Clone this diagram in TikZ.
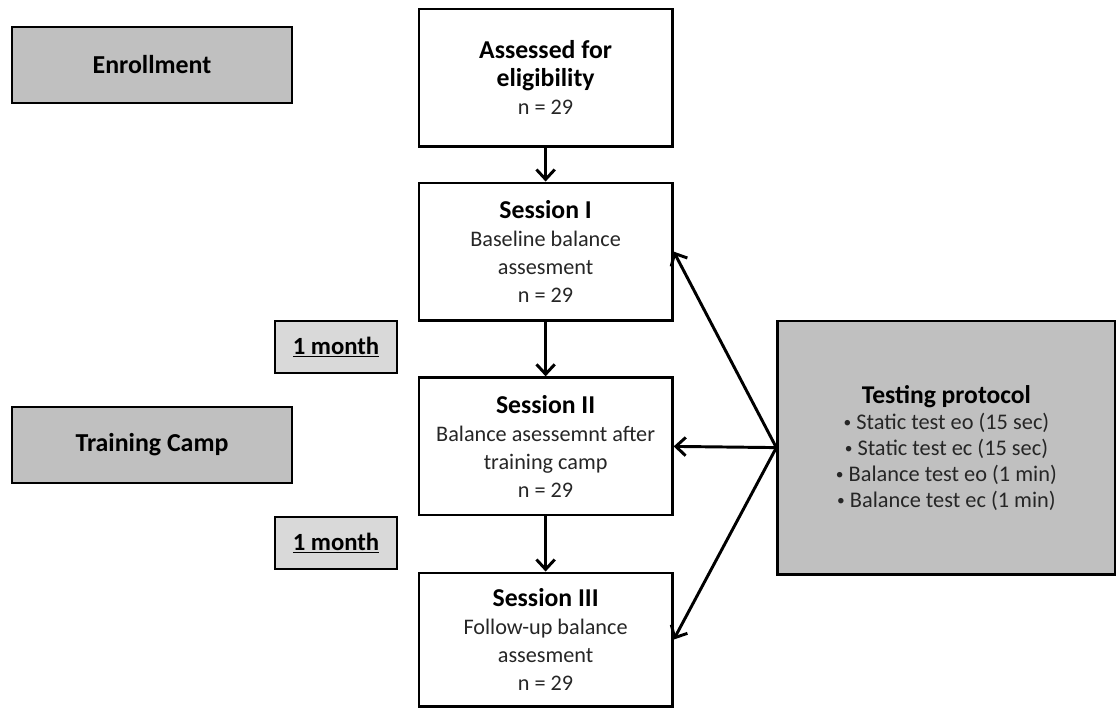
\documentclass[tikz,border=0pt]{standalone}
\usepackage{fontspec}
\setmainfont{Carlito}
\usepackage{tikz}
\usetikzlibrary{arrows.meta}
\definecolor{boxgray}{HTML}{C0C0C0}
\definecolor{monthgray}{HTML}{D9D9D9}
\newcommand{\boxtitle}[1]{{\color{black}\bfseries\fontsize{18.3}{20}\selectfont #1}}
\newcommand{\dotitem}{{\fontsize{11}{11}\selectfont\raisebox{0.12em}{\textbullet}}\ }

\begin{document}
\begin{tikzpicture}[
  stage/.style={draw=black, line width=2.1pt, fill=white, text=black!85,
    minimum width=6.33cm, minimum height=3.43cm, inner sep=0pt, align=center,
    font=\fontsize{15.8}{20}\selectfont},
  phase/.style={draw=black, line width=2.1pt, fill=boxgray,
    minimum width=7cm, minimum height=1.9cm, font=\bfseries\fontsize{18.4}{20}\selectfont},
  gap/.style={draw=black, line width=2.1pt, fill=monthgray,
    minimum width=3.05cm, minimum height=1.3cm, font=\bfseries\fontsize{17.6}{20}\selectfont},
  arr/.style={line width=2.1pt, -{Straight Barb[length=7pt,width=13pt]}}
]
\useasboundingbox (0cm,0cm) rectangle (27.925cm,-17.7cm);

\node[phase] (enroll) at (3.8cm,-1.625cm) {Enrollment};
\node[phase] (camp) at (3.8cm,-11.125cm) {Training Camp};

\node[stage] (elig) at (13.64cm,-1.94cm) {\boxtitle{Assessed for}\\ \boxtitle{eligibility}\\ n = 29};
\node[stage] (s1) at (13.64cm,-6.29cm) {\boxtitle{Session I}\\ Baseline balance\\ assesment\\ n = 29};
\node[stage] (s2) at (13.64cm,-11.16cm) {\boxtitle{Session II}\\ Balance asessemnt after\\ training camp\\ n = 29};
\node[stage, minimum height=3.33cm] (s3) at (13.64cm,-15.99cm) {\boxtitle{Session III}\\ Follow-up balance\\ assesment\\ n = 29};

\node[gap] (m1) at (8.4cm,-8.675cm) {\underline{1 month}};
\node[gap] (m2) at (8.4cm,-13.575cm) {\underline{1 month}};

\node[draw=black, line width=2.1pt, fill=boxgray, minimum width=8.43cm, minimum height=6.33cm,
  align=center, text=black!85, font=\fontsize{15.9}{18.5}\selectfont] (proto) at (23.66cm,-11.19cm)
  {{\color{black}\bfseries\fontsize{18.2}{20}\selectfont Testing protocol}\\
   \dotitem Static test eo (15 sec)\\
   \dotitem Static test ec (15 sec)\\
   \dotitem Balance test eo (1 min)\\
   \dotitem Balance test ec (1 min)};

\draw[arr] (elig) -- (s1);
\draw[arr] (s1) -- (s2);
\draw[arr] (s2) -- (s3);
\draw[arr] (proto.west) -- (s1.east);
\draw[arr] (proto.west) -- (s2.east);
\draw[arr] (proto.west) -- (s3.east);
\end{tikzpicture}
\end{document}
